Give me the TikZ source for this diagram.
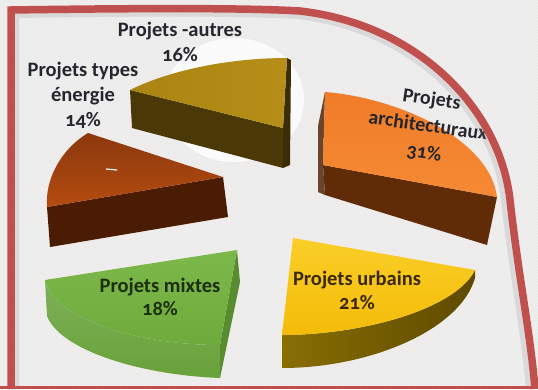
\documentclass[tikz,border=0pt]{standalone}
\usepackage[dvipsnames]{xcolor}
\usepackage{fontspec}
\setmainfont{Carlito}[Numbers=OldStyle]
\usepackage{tikz}
\usetikzlibrary{patterns}

\definecolor{bgPaper}{RGB}{236,233,233}
\definecolor{frameRed}{RGB}{192,80,77}
\definecolor{archTop}{RGB}{240,124,40}
\definecolor{archTopB}{RGB}{246,138,52}
\definecolor{archSide}{RGB}{96,44,8}
\definecolor{urbTop}{RGB}{250,206,40}
\definecolor{urbTopB}{RGB}{244,188,8}
\definecolor{urbSide}{RGB}{136,110,4}
\definecolor{urbSideB}{RGB}{94,74,0}
\definecolor{mixTop}{RGB}{124,184,74}
\definecolor{mixTopB}{RGB}{110,170,60}
\definecolor{mixSide}{RGB}{104,162,58}
\definecolor{mixCut}{RGB}{88,140,46}
\definecolor{eneTop}{RGB}{140,56,14}
\definecolor{eneTopB}{RGB}{180,76,16}
\definecolor{eneSide}{RGB}{74,28,4}
\definecolor{autTop}{RGB}{170,132,18}
\definecolor{autTopB}{RGB}{182,142,24}
\definecolor{autSide}{RGB}{74,56,6}
\definecolor{txtDark}{RGB}{38,38,46}
\definecolor{txtBrown}{RGB}{58,40,10}
\definecolor{txtGreen}{RGB}{28,46,14}

\begin{document}
\begin{tikzpicture}[x=1pt,y=-1pt,
  lbl/.style={anchor=center, align=center, font=\fontsize{20.5}{25}\selectfont\bfseries, text=txtDark}]
\useasboundingbox (0,0) rectangle (538,389);
\fill[bgPaper] (0,0) rectangle (538,389);
\fill[pattern=north east lines, pattern color=gray!8] (0,0) rectangle (538,389);

\fill[white, opacity=0.8] (234,100) ellipse (70 and 62);

\fill[autSide] (130,90) -- (283,128) -- (283,168) -- (132,128) -- cycle;
\fill[autSide!80!black] (287,58) -- (283,128) -- (283,168) -- (290,165) -- (291,60) -- cycle;
\shade[left color=autTop, right color=autTopB] (283,128) -- (130,90) .. controls (170,70) and (230,58) .. (287,58) -- cycle;

\fill[eneSide] (47,207) -- (223,177) -- (228,217) -- (50,247) -- cycle;
\shade[top color=eneTop, bottom color=eneTopB] (223,177) -- (88,133) .. controls (60,150) and (45,180) .. (47,207) -- cycle;
\draw[white, line width=1.2pt] (106,169) -- (117,170);

\fill[archSide!70!gray] (325,92) -- (323,165) -- (325,195) -- (318,192) -- (318,126) -- cycle;
\fill[archSide] (323,165) -- (497,197) -- (487,245) -- (325,195) -- cycle;
\shade[top color=archTop, bottom color=archTopB] (323,165) -- (325,92) .. controls (400,98) and (490,140) .. (497,197) -- cycle;

\shade[left color=urbSide, right color=urbSideB] (282,335) .. controls (360,335) and (455,310) .. (475,270) -- (475,278) .. controls (460,330) and (370,368) .. (282,368) -- cycle;
\shade[top color=urbTop, bottom color=urbTopB] (293,238) -- (475,270) .. controls (455,310) and (360,335) .. (282,335) -- cycle;

\fill[mixCut] (237,250) -- (220,345) -- (220,378) -- (240,282) -- cycle;
\shade[top color=mixSide!85!white, bottom color=mixSide] (45,280) .. controls (55,320) and (140,345) .. (220,345) -- (220,378) .. controls (140,375) and (60,350) .. (47,316) -- cycle;
\shade[top color=mixTop, bottom color=mixTopB] (237,250) -- (45,280) .. controls (55,320) and (140,345) .. (220,345) -- cycle;

\node[lbl] (autres) at (180,42) {Projets -autres\\16\%};
\node[lbl] (energie) at (83,95) {Projets types\\énergie\\14\%};
\node[lbl, rotate=-8, font=\fontsize{20}{27}\selectfont\bfseries] (archi) at (428,126) {Projets\\architecturaux\\31\%};
\node[lbl, text=txtBrown, font=\fontsize{20.5}{24}\selectfont\bfseries] (urbains) at (357,290) {Projets urbains\\21\%};
\node[lbl, text=txtGreen, font=\fontsize{20.5}{23}\selectfont\bfseries] (mixtes) at (160,297) {Projets mixtes\\18\%};

\draw[gray, opacity=0.18, line width=10pt] (14,389) -- (14,13) .. controls (150,11) and (250,11) .. (298,14) .. controls (416,28) and (496,111) .. (506,200) .. controls (515,280) and (526,330) .. (531,389);
\draw[frameRed, line width=7.5pt] (11,389) -- (11,10) .. controls (150,8) and (250,8) .. (300,11) .. controls (420,25) and (500,110) .. (510,200) .. controls (519,280) and (530,330) .. (535,389);
\draw[frameRed, line width=3pt] (0,387.5) -- (538,387.5);
\end{tikzpicture}
\end{document}
